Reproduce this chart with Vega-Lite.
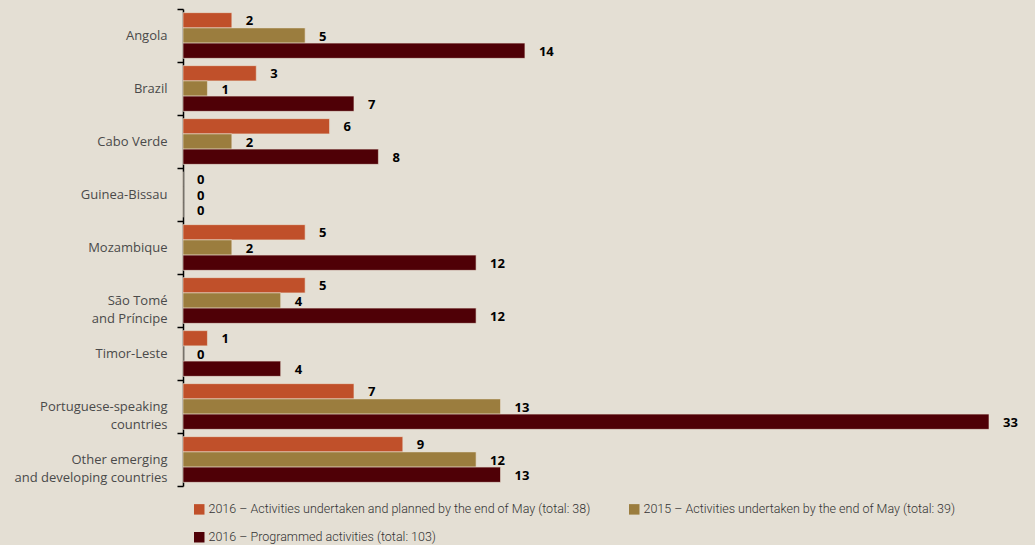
{
  "$schema": "https://vega.github.io/schema/vega-lite/v6.json",
  "autosize": {"type": "none"},
  "width": 806,
  "height": 477,
  "padding": {"left": 183, "top": 9, "right": 46, "bottom": 59},
  "background": "#e4dfd4",
  "config": {"view": {"stroke": null}, "font": "Open Sans"},
  "data": {
    "values": [
      {"country": "Angola", "series": "2016 – Activities undertaken and planned by the end of May (total: 38)", "order": 1, "value": 2},
      {"country": "Angola", "series": "2015 – Activities undertaken  by the end of May (total: 39)", "order": 2, "value": 5},
      {"country": "Angola", "series": "2016 –  Programmed activities (total: 103)", "order": 3, "value": 14},
      {"country": "Brazil", "series": "2016 – Activities undertaken and planned by the end of May (total: 38)", "order": 1, "value": 3},
      {"country": "Brazil", "series": "2015 – Activities undertaken  by the end of May (total: 39)", "order": 2, "value": 1},
      {"country": "Brazil", "series": "2016 –  Programmed activities (total: 103)", "order": 3, "value": 7},
      {"country": "Cabo Verde", "series": "2016 – Activities undertaken and planned by the end of May (total: 38)", "order": 1, "value": 6},
      {"country": "Cabo Verde", "series": "2015 – Activities undertaken  by the end of May (total: 39)", "order": 2, "value": 2},
      {"country": "Cabo Verde", "series": "2016 –  Programmed activities (total: 103)", "order": 3, "value": 8},
      {"country": "Guinea-Bissau", "series": "2016 – Activities undertaken and planned by the end of May (total: 38)", "order": 1, "value": 0},
      {"country": "Guinea-Bissau", "series": "2015 – Activities undertaken  by the end of May (total: 39)", "order": 2, "value": 0},
      {"country": "Guinea-Bissau", "series": "2016 –  Programmed activities (total: 103)", "order": 3, "value": 0},
      {"country": "Mozambique", "series": "2016 – Activities undertaken and planned by the end of May (total: 38)", "order": 1, "value": 5},
      {"country": "Mozambique", "series": "2015 – Activities undertaken  by the end of May (total: 39)", "order": 2, "value": 2},
      {"country": "Mozambique", "series": "2016 –  Programmed activities (total: 103)", "order": 3, "value": 12},
      {"country": "São Tomé and Príncipe", "series": "2016 – Activities undertaken and planned by the end of May (total: 38)", "order": 1, "value": 5},
      {"country": "São Tomé and Príncipe", "series": "2015 – Activities undertaken  by the end of May (total: 39)", "order": 2, "value": 4},
      {"country": "São Tomé and Príncipe", "series": "2016 –  Programmed activities (total: 103)", "order": 3, "value": 12},
      {"country": "Timor-Leste", "series": "2016 – Activities undertaken and planned by the end of May (total: 38)", "order": 1, "value": 1},
      {"country": "Timor-Leste", "series": "2015 – Activities undertaken  by the end of May (total: 39)", "order": 2, "value": 0},
      {"country": "Timor-Leste", "series": "2016 –  Programmed activities (total: 103)", "order": 3, "value": 4},
      {"country": "Portuguese-speaking countries", "series": "2016 – Activities undertaken and planned by the end of May (total: 38)", "order": 1, "value": 7},
      {"country": "Portuguese-speaking countries", "series": "2015 – Activities undertaken  by the end of May (total: 39)", "order": 2, "value": 13},
      {"country": "Portuguese-speaking countries", "series": "2016 –  Programmed activities (total: 103)", "order": 3, "value": 33},
      {"country": "Other emerging and developing countries", "series": "2016 – Activities undertaken and planned by the end of May (total: 38)", "order": 1, "value": 9},
      {"country": "Other emerging and developing countries", "series": "2015 – Activities undertaken  by the end of May (total: 39)", "order": 2, "value": 12},
      {"country": "Other emerging and developing countries", "series": "2016 –  Programmed activities (total: 103)", "order": 3, "value": 13}
    ]
  },
  "encoding": {
    "y": {
      "field": "country",
      "type": "nominal",
      "sort": null,
      "scale": {"paddingInner": 0, "paddingOuter": 0},
      "axis": {
        "title": null,
        "domainColor": "#000000",
        "domainWidth": 1.5,
        "tickColor": "#000000",
        "tickWidth": 1.5,
        "tickSize": 6,
        "tickBand": "extent",
        "labelPadding": 10,
        "labelFont": "Open Sans",
        "labelFontSize": 13,
        "labelColor": "#4a4a4a",
        "labelLineHeight": 18,
        "labelExpr": "datum.label == 'São Tomé and Príncipe' ? ['São Tomé ', 'and Príncipe'] : datum.label == 'Portuguese-speaking countries' ? ['Portuguese-speaking', 'countries'] : datum.label == 'Other emerging and developing countries' ? ['Other emerging', 'and developing countries'] : datum.label"
      }
    },
    "yOffset": {
      "field": "order",
      "type": "ordinal",
      "scale": {"paddingInner": 0, "paddingOuter": 0.24}
    },
    "x": {
      "field": "value",
      "type": "quantitative",
      "scale": {"domain": [0, 33], "nice": false, "zero": true},
      "axis": null
    }
  },
  "layer": [
    {
      "mark": {"type": "bar", "stroke": "#eadfd0", "strokeWidth": 0.6},
      "encoding": {
        "color": {
          "field": "series",
          "type": "nominal",
          "sort": null,
          "scale": {
            "domain": [
              "2016 – Activities undertaken and planned by the end of May (total: 38)",
              "2015 – Activities undertaken  by the end of May (total: 39)",
              "2016 –  Programmed activities (total: 103)"
            ],
            "range": ["#c0502a", "#9b7d3e", "#4f0006"]
          },
          "legend": {
            "title": null,
            "orient": "none",
            "legendX": 10,
            "legendY": 494,
            "direction": "horizontal",
            "columns": 2,
            "columnPadding": 37,
            "rowPadding": 15,
            "symbolType": "square",
            "symbolSize": 110,
            "symbolStrokeWidth": 0,
            "labelOffset": 3,
            "labelFont": "Roboto",
            "labelFontWeight": 300,
            "labelFontSize": 12.5,
            "labelColor": "#333333",
            "labelLimit": 0
          }
        }
      }
    },
    {
      "mark": {"type": "text", "align": "left", "baseline": "middle", "dx": 14, "dy": 1, "fontWeight": "bold", "fontSize": 13, "font": "Open Sans", "color": "#000000"},
      "encoding": {"text": {"field": "value", "type": "quantitative"}}
    }
  ]
}
